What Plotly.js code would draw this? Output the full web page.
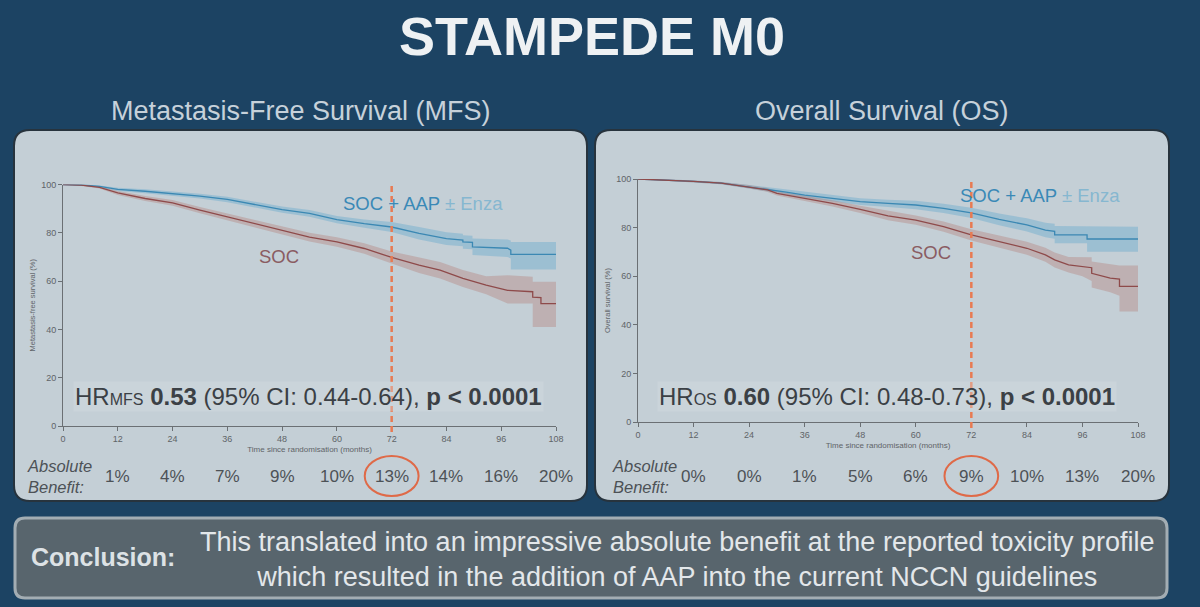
<!DOCTYPE html>
<html>
<head>
<meta charset="utf-8">
<script src="https://cdn.plot.ly/plotly-3.0.1.min.js"></script>
<style>html,body{margin:0;padding:0;background:#1c4363;}#chart{width:1200px;height:607px;}</style>
</head>
<body>
<div id="chart"></div>
<script>
// ---------- data ----------
const tickMonths = [0, 12, 24, 36, 48, 60, 72, 84, 96, 108];
const benefitMonths = [12, 24, 36, 48, 60, 72, 84, 96, 108];
const benefitMFS = [1, 4, 7, 9, 10, 13, 14, 16, 20];
const benefitOS = [0, 0, 1, 5, 6, 9, 10, 13, 20];
const landmarkMonth = 72;

// MFS, SOC + AAP ± Enza
const mfsAapT  = [0, 4, 8, 12, 18, 24, 30, 36, 42, 48, 54, 60, 66, 72, 78, 84, 87.6, 87.6, 89.7, 89.7, 97.4, 98.1, 98.1, 108];
const mfsAapS  = [100, 99.8, 99.2, 98.0, 97.2, 96.3, 95.2, 93.8, 91.8, 89.6, 88.0, 85.5, 83.8, 82.4, 79.8, 77.6, 77.0, 76.2, 76.0, 74.2, 73.6, 72.8, 71.1, 71.1];
const mfsAapHi = [100, 100, 99.6, 98.7, 98.0, 97.2, 96.2, 94.9, 93.0, 90.9, 89.4, 87.0, 85.5, 84.5, 82.4, 80.2, 79.6, 79.0, 78.8, 77.6, 77.2, 76.8, 76.2, 76.2];
const mfsAapLo = [100, 99.6, 98.8, 97.3, 96.4, 95.4, 94.2, 92.7, 90.6, 88.3, 86.6, 84.0, 82.1, 80.3, 77.2, 75.0, 74.4, 73.4, 73.2, 70.8, 70.0, 69.4, 64.8, 64.8];

// MFS, SOC
const mfsSocT  = [0, 4, 8, 12, 18, 24, 30, 36, 42, 48, 54, 60, 66, 72, 78, 82.6, 87.6, 92.7, 97.4, 102.9, 102.9, 104.7, 104.7, 108];
const mfsSocS  = [100, 99.7, 98.8, 96.5, 94.2, 92.4, 89.4, 86.6, 83.8, 81.1, 78.2, 76.2, 73.5, 69.8, 66.6, 64.5, 61.1, 58.3, 56.2, 55.6, 53.4, 53.2, 50.7, 50.7];
const mfsSocHi = [100, 100, 99.3, 97.3, 95.2, 93.6, 90.7, 88.0, 85.4, 82.8, 80.0, 78.2, 75.7, 72.3, 69.8, 67.9, 64.6, 62.0, 62.4, 61.8, 59.7, 59.7, 59.7, 59.7];
const mfsSocLo = [100, 99.4, 98.3, 95.7, 93.2, 91.2, 88.1, 85.2, 82.2, 79.4, 76.4, 74.2, 71.3, 67.3, 63.4, 61.1, 57.6, 54.6, 50.7, 50.7, 41.0, 41.0, 41.0, 41.0];

// OS, SOC + AAP ± Enza
const osAapT  = [0, 6, 12, 18, 24, 28, 32, 36, 42, 48, 54, 60, 66, 72, 78, 84, 88, 90, 90, 97, 97, 108];
const osAapS  = [100, 99.6, 99.0, 98.3, 96.8, 95.8, 94.6, 93.4, 92.1, 90.7, 90.0, 89.3, 87.9, 86.1, 83.4, 81.1, 79.0, 78.5, 77.0, 77.0, 75.3, 75.3];
const osAapHi = [100, 99.9, 99.4, 98.8, 97.5, 96.6, 95.6, 94.5, 93.4, 92.1, 91.5, 91.0, 89.8, 88.2, 85.8, 83.8, 82.0, 81.6, 80.7, 80.7, 80.4, 80.4];
const osAapLo = [100, 99.3, 98.6, 97.8, 96.1, 95.0, 93.6, 92.3, 90.8, 89.3, 88.5, 87.6, 86.0, 84.0, 81.0, 78.4, 76.0, 75.4, 73.6, 73.6, 70.1, 70.1];

// OS, SOC
const osSocT  = [0, 6, 12, 18, 24, 28, 30, 36, 42, 48, 54, 60, 66, 72, 78, 84, 88, 90, 93, 96, 98, 98, 102, 104, 104, 108];
const osSocS  = [100, 99.6, 99.0, 98.3, 96.8, 95.5, 94.1, 92.1, 90.0, 87.5, 84.8, 83.1, 80.4, 77.0, 74.2, 71.5, 68.8, 66.7, 64.7, 64.0, 63.5, 61.2, 59.2, 58.8, 55.8, 55.8];
const osSocHi = [100, 99.9, 99.4, 98.8, 97.5, 96.3, 95.0, 93.2, 91.3, 89.0, 86.9, 85.0, 82.5, 79.3, 76.7, 74.2, 71.7, 69.8, 67.9, 67.8, 67.8, 66.0, 64.8, 64.4, 64.4, 64.4];
const osSocLo = [100, 99.3, 98.6, 97.8, 96.1, 94.7, 93.2, 91.0, 88.7, 86.0, 83.0, 81.2, 78.3, 74.7, 71.7, 68.8, 65.9, 63.6, 61.5, 60.0, 58.0, 55.4, 53.4, 52.0, 45.5, 45.5];

// ---------- styling helpers ----------
const W = 1200, H = 607;
const fx = p => p / W;
const fy = p => (H - p) / H;
const FONT = '"Liberation Sans", Arial, Helvetica, sans-serif';
const BLUE = '#3b88b3', RED = '#8e4a4a';
const BLUE_FILL = 'rgba(92,166,206,0.38)', RED_FILL = 'rgba(176,112,102,0.32)';

function roundRect(x0, y0, x1, y1, r) {
  const X = fx, Y = fy;
  return `M${X(x0 + r)},${Y(y0)} L${X(x1 - r)},${Y(y0)} Q${X(x1)},${Y(y0)} ${X(x1)},${Y(y0 + r)} ` +
         `L${X(x1)},${Y(y1 - r)} Q${X(x1)},${Y(y1)} ${X(x1 - r)},${Y(y1)} ` +
         `L${X(x0 + r)},${Y(y1)} Q${X(x0)},${Y(y1)} ${X(x0)},${Y(y1 - r)} ` +
         `L${X(x0)},${Y(y0 + r)} Q${X(x0)},${Y(y0)} ${X(x0 + r)},${Y(y0)} Z`;
}

function band(t, hi, lo, xa, ya, fill) {
  return [
    {x: t, y: hi, xaxis: xa, yaxis: ya, mode: 'lines', line: {width: 0}, hoverinfo: 'skip', showlegend: false},
    {x: t, y: lo, xaxis: xa, yaxis: ya, mode: 'lines', line: {width: 0}, fill: 'tonexty', fillcolor: fill, hoverinfo: 'skip', showlegend: false}
  ];
}
function curve(t, s, xa, ya, color, name) {
  return {x: t, y: s, xaxis: xa, yaxis: ya, name: name, mode: 'lines', line: {color: color, width: 1.3}, cliponaxis: false, showlegend: false};
}

const traces = [
  ...band(mfsAapT, mfsAapHi, mfsAapLo, 'x', 'y', BLUE_FILL),
  ...band(mfsSocT, mfsSocHi, mfsSocLo, 'x', 'y', RED_FILL),
  curve(mfsAapT, mfsAapS, 'x', 'y', BLUE, 'SOC + AAP ± Enza'),
  curve(mfsSocT, mfsSocS, 'x', 'y', RED, 'SOC'),
  ...band(osAapT, osAapHi, osAapLo, 'x2', 'y2', BLUE_FILL),
  ...band(osSocT, osSocHi, osSocLo, 'x2', 'y2', RED_FILL),
  curve(osAapT, osAapS, 'x2', 'y2', BLUE, 'SOC + AAP ± Enza'),
  curve(osSocT, osSocS, 'x2', 'y2', RED, 'SOC')
];

const tickFont = {family: FONT, size: 9, color: '#5f6468'};
function xAxis(domain, anchor) {
  return {domain: domain, anchor: anchor, range: [0, 108], tickvals: tickMonths, ticks: 'outside', ticklen: 4,
    tickcolor: '#6b7074', showline: true, linecolor: '#6b7074', linewidth: 1, showgrid: false, zeroline: false,
    tickfont: tickFont, title: {text: 'Time since randomisation (months)', font: {family: FONT, size: 8, color: '#5f6468'}, standoff: 3}};
}
function yAxis(domain, anchor, title) {
  return {domain: domain, anchor: anchor, range: [0, 100], tickvals: [0, 20, 40, 60, 80, 100], ticks: 'outside', ticklen: 4,
    tickcolor: '#6b7074', showline: true, linecolor: '#6b7074', linewidth: 1, showgrid: false, zeroline: false,
    tickfont: tickFont, title: {text: title, font: {family: FONT, size: 7.5, color: '#5f6468'}, standoff: 4}};
}

function pnote(text, px, py, size, color, extra) {
  return Object.assign({text: text, x: fx(px), y: fy(py), xref: 'paper', yref: 'paper', xanchor: 'center', yanchor: 'middle',
    showarrow: false, font: {family: FONT, size: size, color: color}}, extra || {});
}

const annotations = [
  pnote('<b>STAMPEDE M0</b>', 592, 36, 54, '#eef1f3'),
  pnote('Metastasis-Free Survival (MFS)', 301, 111, 27, '#c6d1da'),
  pnote('Overall Survival (OS)', 882, 111, 27, '#c6d1da'),
  // group labels
  {text: 'SOC + AAP <span style="color:#86b7d0">± Enza</span>', x: 60.9, y: 92.3, xref: 'x', yref: 'y', xanchor: 'left', yanchor: 'middle', showarrow: false,
   font: {family: FONT, size: 18.5, color: '#3a89b6'}},
  {text: 'SOC', x: 47.3, y: 70.2, xref: 'x', yref: 'y', xanchor: 'center', yanchor: 'middle', showarrow: false, font: {family: FONT, size: 18.5, color: '#8a5c62'}},
  {text: 'SOC + AAP <span style="color:#86b7d0">± Enza</span>', x: 69.2, y: 93.4, xref: 'x2', yref: 'y2', xanchor: 'left', yanchor: 'middle', showarrow: false,
   font: {family: FONT, size: 18.5, color: '#3a89b6'}},
  {text: 'SOC', x: 63.2, y: 69.8, xref: 'x2', yref: 'y2', xanchor: 'center', yanchor: 'middle', showarrow: false, font: {family: FONT, size: 18.5, color: '#8a5c62'}},
  // hazard ratios
  pnote('HR<span style="font-size:16px">MFS</span> <b>0.53</b> (95% CI: 0.44-0.64), <b>p &lt; 0.0001</b>', 308, 397, 24, '#3b4045',
    {bgcolor: 'rgba(214,222,227,0.35)', borderpad: 1}),
  pnote('HR<span style="font-size:16px">OS</span> <b>0.60</b> (95% CI: 0.48-0.73), <b>p &lt; 0.0001</b>', 887, 397, 24, '#3b4045',
    {bgcolor: 'rgba(214,222,227,0.35)', borderpad: 1}),
  // absolute benefit headers
  pnote('<i>Absolute<br>Benefit:</i>', 25, 476, 16.5, '#4d5256', {xanchor: 'left', align: 'left'}),
  pnote('<i>Absolute<br>Benefit:</i>', 610, 476, 16.5, '#4d5256', {xanchor: 'left', align: 'left'}),
  // conclusion
  pnote('<b>Conclusion:</b>', 103, 557, 25, '#dde2e5'),
  pnote('This translated into an impressive absolute benefit at the reported toxicity profile<br>which resulted in the addition of AAP into the current NCCN guidelines',
    677, 559, 27, '#e3e7ea', {align: 'center'})
];
benefitMonths.forEach((m, i) => {
  annotations.push({text: benefitMFS[i] + '%', x: m, y: fy(476), xref: 'x', yref: 'paper', xanchor: 'center', yanchor: 'middle', showarrow: false,
    font: {family: FONT, size: 17, color: '#4d5256'}});
  annotations.push({text: benefitOS[i] + '%', x: m, y: fy(476), xref: 'x2', yref: 'paper', xanchor: 'center', yanchor: 'middle', showarrow: false,
    font: {family: FONT, size: 17, color: '#4d5256'}});
});

const shapes = [
  {type: 'path', xref: 'paper', yref: 'paper', layer: 'below', path: roundRect(14, 130, 587, 501, 16),
   fillcolor: '#c4cfd6', line: {color: '#27333d', width: 2}},
  {type: 'path', xref: 'paper', yref: 'paper', layer: 'below', path: roundRect(595, 130, 1169, 501, 16),
   fillcolor: '#c4cfd6', line: {color: '#27333d', width: 2}},
  {type: 'path', xref: 'paper', yref: 'paper', layer: 'below', path: roundRect(15, 518, 1167, 598, 10),
   fillcolor: '#58656d', line: {color: '#a3adb3', width: 3}},
  {type: 'line', xref: 'x', yref: 'paper', x0: landmarkMonth, x1: landmarkMonth, y0: fy(186), y1: fy(432),
   line: {color: '#e87a52', width: 2.5, dash: '6px,4px'}},
  {type: 'line', xref: 'x2', yref: 'paper', x0: landmarkMonth, x1: landmarkMonth, y0: fy(182), y1: fy(430),
   line: {color: '#e87a52', width: 2.5, dash: '6px,4px'}},
  {type: 'circle', xref: 'x', yref: 'paper', x0: landmarkMonth - 5.9, x1: landmarkMonth + 5.9, y0: fy(496), y1: fy(456),
   line: {color: '#df6a48', width: 2}},
  {type: 'circle', xref: 'x2', yref: 'paper', x0: landmarkMonth - 5.8, x1: landmarkMonth + 5.8, y0: fy(496), y1: fy(456),
   line: {color: '#df6a48', width: 2}}
];

const layout = {
  width: W, height: H,
  margin: {l: 0, r: 0, t: 0, b: 0},
  paper_bgcolor: '#1c4363',
  plot_bgcolor: 'rgba(0,0,0,0)',
  showlegend: false,
  xaxis: xAxis([fx(63), fx(556)], 'y'),
  yaxis: yAxis([fy(426), fy(184.5)], 'x', 'Metastasis-free survival (%)'),
  xaxis2: xAxis([fx(638), fx(1138)], 'y2'),
  yaxis2: yAxis([fy(422), fy(179)], 'x2', 'Overall survival (%)'),
  annotations: annotations,
  shapes: shapes
};

Plotly.newPlot('chart', traces, layout, {displayModeBar: false, staticPlot: true});
</script>
</body>
</html>
